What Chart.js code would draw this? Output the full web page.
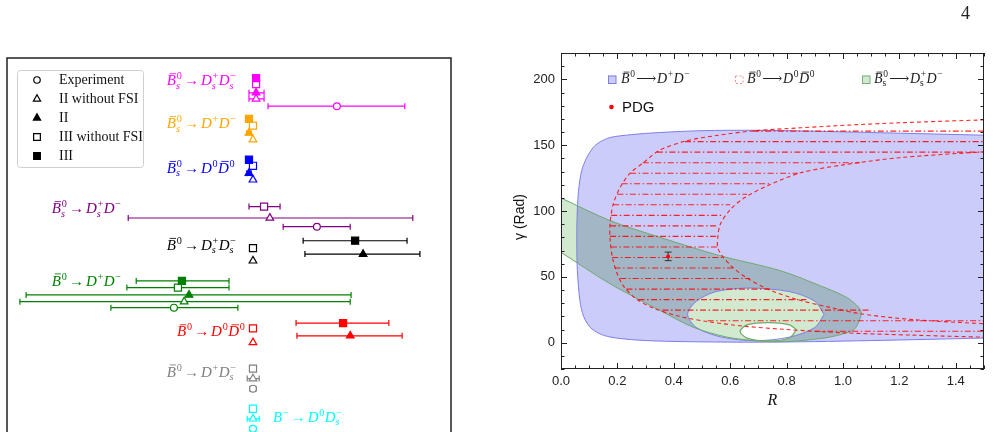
<!DOCTYPE html>
<html lang="en">
<head>
<meta charset="UTF-8" />
<title>Branching ratios and R-gamma regions</title>
<script src="https://cdn.jsdelivr.net/npm/chart.js"></script>
<style>
  html, body { margin: 0; padding: 0; background: #fff; width: 999px; height: 432px; overflow: hidden; }
  #left { position: absolute; left: 0; top: 0; }
  #right { position: absolute; left: 480px; top: 0; }
  #pageNo { position: absolute; left: 961px; top: 3px; font: 18px 'Liberation Serif', serif; color: #222; }
</style>
</head>
<body>
<canvas id="left" width="470" height="480"></canvas>
<canvas id="right" width="519" height="432"></canvas>
<div id="pageNo">4</div>

<script>
// ---------- left panel: processes ----------
const procLabels = ['~B^0_s→D^+_sD^−_s', '~B^0_s→D^+D^−', '~B^0_s→D^0~D^0', '~B^0_s→D^+_sD^−',
  '~B^0→D^+_sD^−_s', '~B^0→D^+D^−', '~B^0→D^0~D^0', '~B^0→D^+D^−_s', 'B^−→D^0D^−_s'];
const procColors = ['#ff00ff', '#ffa500', '#0000ff', '#800080', '#000000', '#008000', '#ff0000', '#808080', '#00ffff'];
const labelX = [36.0, 36.0, 36.0, 10.1, 36.0, 10.1, 38.3, 36.0, 59.9];
const labelRow = [4.1, 10.5, 17.2, 23.2, 28.7, 34.0, 41.6, 47.6, 54.4];

// model III (filled square)
const rowIII = [3.0, 9.1, 15.2, null, 27.3, 33.3, 39.6, null, null];
const valIII = [56.1, 54.5, 54.5, null, 78.4, 39.4, 75.7, null, null];
const loIII = [null, null, null, null, 66.7, 29.1, 65.1, null, null];
const hiIII = [null, null, null, null, 90.1, 50.0, 86.0, null, null];
// model III without FSI (open square)
const rowIIIwo = [3.9, 10.1, 16.1, 22.2, 28.4, 34.3, 40.4, 46.4, 52.4];
const valIIIwo = [56.1, 55.4, 55.4, 57.9, 55.4, 38.5, 55.4, 55.4, 55.4];
const loIIIwo = [null, null, null, 54.5, null, 27.0, null, null, null];
const hiIIIwo = [null, null, null, 61.5, null, 50.0, null, null, null];
// model II (filled triangle)
const rowII = [5.2, 11.2, 17.2, null, 29.3, 35.4, 41.5, null, null];
const valII = [56.1, 54.5, 54.5, null, 80.2, 41.0, 77.3, null, null];
const loII = [54.5, 54.0, 54.0, null, 67.1, 4.3, 65.3, null, null];
const hiII = [57.9, 55.0, 55.0, null, 93.0, 77.5, 89.0, null, null];
// model II without FSI (open triangle)
const rowIIwo = [6.1, 12.2, 18.2, 23.9, 30.3, 36.4, 42.5, 47.9, 53.9];
const valIIwo = [56.1, 55.4, 55.4, 59.2, 55.4, 39.9, 55.4, 55.4, 55.4];
const loIIwo = [54.5, null, null, 27.3, null, 2.9, null, 54.1, 54.1];
const hiIIwo = [57.9, null, null, 91.4, null, 77.3, null, 56.8, 56.8];
// experiment (open circle)
const rowExp = [7.2, null, null, 25.2, null, 37.3, null, 49.4, 55.4];
const valExp = [74.3, null, null, 69.8, null, 37.6, null, 55.4, 55.4];
const loExp = [58.8, null, null, 62.2, null, 23.4, null, 54.7, 54.7];
const hiExp = [89.6, null, null, 77.3, null, 52.0, null, 56.1, 56.1];

// ---------- right panel: R - gamma regions ----------
const blueR = [1.6, 1.5, 1.3, 1.1, 0.9, 0.7, 0.5, 0.35, 0.25, 0.174, 0.135, 0.114, 0.09, 0.073, 0.062, 0.057, 0.056, 0.058, 0.067, 0.08, 0.103, 0.135, 0.174, 0.25, 0.351, 0.5, 0.7, 0.9, 1.1, 1.3, 1.5, 1.6];
const blueG = [157.3, 157.6, 158.6, 159.6, 160.6, 161.3, 161.0, 159.6, 158.0, 155.8, 152.0, 148.2, 140.0, 130.5, 115.0, 95.0, 75.0, 55.0, 32.0, 20.0, 11.8, 7.0, 4.3, 2.3, 1.2, 0.6, 0.4, 0.8, 1.6, 2.5, 3.5, 3.8];
const holeR = [0.933, 0.90, 0.81, 0.665, 0.55, 0.48, 0.449, 0.48, 0.57, 0.69, 0.81, 0.90, 0.933];
const holeG = [21.5, 31.5, 38.8, 41.5, 38.8, 31.5, 21.5, 11.5, 4.2, 1.5, 4.2, 11.5, 21.5];
const innerHoleR = [0.835, 0.81, 0.735, 0.66, 0.635, 0.66, 0.735, 0.81, 0.835];
const innerHoleG = [9.8, 13.5, 15.2, 13.5, 8.5, 3.5, 1.3, 3.5, 9.8];
const bandR = [-0.05, 0, 0.174, 0.351, 0.563, 0.776, 0.917, 1.012, 1.055, 1.065, 1.05, 1.035, 0.98, 0.917, 0.8, 0.705, 0.587, 0.468, 0.351, 0.174, 0, -0.05];
const bandG = [114.0, 109.8, 92.7, 80.0, 66.1, 54.8, 43.4, 34.5, 27.0, 22.0, 13.0, 9.3, 5.5, 3.0, 0.8, 1.2, 4.3, 11.8, 24.5, 44.7, 68.6, 75.5];
const bandEdgeR = [-0.05, 0, 0.057, 0.057, 0, -0.05];
const bandEdgeG = [114.0, 109.8, 104.2, 60.8, 68.6, 75.5];
const outerR = [1.6, 1.5, 1.2, 1.035, 0.85, 0.68, 0.55, 0.445, 0.35, 0.29, 0.244, 0.21, 0.185, 0.174, 0.174, 0.183, 0.2, 0.225, 0.268, 0.33, 0.42, 0.52, 0.65, 0.8, 1.0, 1.25, 1.5, 1.6];
const outerG = [169.7, 169.2, 167.0, 165.4, 163.2, 160.8, 157.3, 153.3, 146.2, 136.3, 128.5, 118.0, 105.0, 90.0, 78.0, 64.0, 52.0, 42.0, 33.0, 26.0, 20.0, 16.0, 12.5, 10.0, 7.5, 5.7, 4.2, 3.9];
const innerR = [1.6, 1.5, 1.2, 1.0, 0.85, 0.74, 0.65, 0.6, 0.565, 0.556, 0.556, 0.575, 0.61, 0.66, 0.74, 0.85, 0.95, 1.06, 1.25, 1.5, 1.6];
const innerG = [146.5, 145.0, 140.5, 135.0, 129.0, 120.0, 110.0, 101.0, 90.0, 80.0, 72.0, 65.0, 57.0, 49.0, 40.0, 32.0, 27.0, 22.0, 17.5, 14.4, 13.5];
const hatchGamma = [160.7, 152.7, 144.7, 136.7, 128.7, 120.7, 112.7, 104.7, 96.7, 88.7, 80.7, 72.7, 64.7, 56.7, 48.7, 40.7, 32.7, 24.7, 16.7, 8.7];
const hatchFrom = [0.68, 0.44, 0.34, 0.29, 0.245, 0.215, 0.2, 0.185, 0.178, 0.174, 0.174, 0.177, 0.182, 0.19, 0.21, 0.232, 0.275, 0.36, 0.52, 0.9];
const hatchTo = [1.5, 1.5, 1.5, 1.06, 0.84, 0.74, 0.66, 0.6, 0.57, 0.558, 0.556, 0.556, 0.575, 0.61, 0.67, 0.74, 0.87, 1.1, 1.5, 1.5];
const pdgR = [0.38];
const pdgG = [65.5];
const pdgLo = [62.3];
const pdgHi = [68.8];
const xTickVals = [0, 0.2, 0.4, 0.6, 0.8, 1.0, 1.2, 1.4];
const yTickVals = [0, 50, 100, 150, 200];

const serif = "'Liberation Serif', 'DejaVu Serif', serif";
const sans = "'Liberation Sans', Arial, sans-serif";
const GAP = { x: null, y: null };

// small math-like text: ~ puts a bar over the next letter, ^ and _ make scripts
function drawMath(ctx, str, x, y, size, color, subUpright, arrowGap) {
  let cx = x, scriptX = x, scriptEnd = x, barNext = false, prevItalic = false;
  ctx.save();
  ctx.fillStyle = color; ctx.strokeStyle = color;
  ctx.textBaseline = 'alphabetic'; ctx.textAlign = 'left';
  const isLetter = c => /[A-Za-z]/.test(c);
  const font = (c, sz, up) => (isLetter(c) && !up ? 'italic ' : '') + sz + 'px ' + serif;
  for (let i = 0; i < str.length; i++) {
    const ch = str[i];
    if (ch === '~') { barNext = true; continue; }
    if (ch === '^' || ch === '_') {
      const s = str[++i];
      const sz = size * 0.68;
      ctx.font = font(s, sz, ch === '_' && subUpright);
      const dy = ch === '^' ? -size * 0.4 : size * 0.22;
      const sx = scriptX + (ch === '^' && prevItalic ? size * 0.05 : 0);
      ctx.fillText(s, sx, y + dy);
      scriptEnd = Math.max(scriptEnd, sx + ctx.measureText(s).width);
      cx = Math.max(cx, scriptEnd + size * 0.03);
      continue;
    }
    ctx.font = font(ch, size);
    const w = ctx.measureText(ch).width;
    const gap = (ch === '→' || ch === '⟶') ? size * arrowGap : 0;
    ctx.fillText(ch, cx + gap, y);
    if (barNext) {
      ctx.lineWidth = Math.max(0.8, size * 0.055);
      const by = y - size * 0.78;
      ctx.beginPath(); ctx.moveTo(cx + w * 0.3, by); ctx.lineTo(cx + w * 1.0, by); ctx.stroke();
      barNext = false;
    }
    prevItalic = isLetter(ch);
    cx += w + gap * 2;
    scriptX = cx; scriptEnd = cx;
  }
  ctx.restore();
}

function drawMarker(ctx, style, filled, x, y, r, color) {
  ctx.save();
  ctx.beginPath();
  if (style === 'circle') ctx.arc(x, y, r, 0, Math.PI * 2);
  else if (style === 'rect') { const s = r * Math.SQRT1_2; ctx.rect(x - s, y - s, 2 * s, 2 * s); }
  else { ctx.moveTo(x, y - r); ctx.lineTo(x + r * 0.866, y + r / 2); ctx.lineTo(x - r * 0.866, y + r / 2); ctx.closePath(); }
  ctx.fillStyle = filled ? color : '#fff'; ctx.fill();
  ctx.strokeStyle = color; ctx.lineWidth = 1.2; ctx.stroke();
  ctx.restore();
}

const leftSeries = [
  { name: 'III', style: 'rect', filled: true, r: 5, rows: rowIII, vals: valIII, lo: loIII, hi: hiIII },
  { name: 'III without FSI', style: 'rect', filled: false, r: 5, rows: rowIIIwo, vals: valIIIwo, lo: loIIIwo, hi: hiIIIwo },
  { name: 'II', style: 'triangle', filled: true, r: 4.4, rows: rowII, vals: valII, lo: loII, hi: hiII },
  { name: 'II without FSI', style: 'triangle', filled: false, r: 4.4, rows: rowIIwo, vals: valIIwo, lo: loIIwo, hi: hiIIwo },
  { name: 'Experiment', style: 'circle', filled: false, r: 3.4, rows: rowExp, vals: valExp, lo: loExp, hi: hiExp }
];

const leftDecor = {
  id: 'leftDecor',
  beforeDatasetsDraw(chart) {
    const { ctx, scales: { x, y } } = chart;
    ctx.save();
    ctx.lineWidth = 1.2;
    leftSeries.forEach(s => {
      s.vals.forEach((v, i) => {
        if (v == null || s.lo[i] == null) return;
        const py = y.getPixelForValue(s.rows[i]);
        const x0 = x.getPixelForValue(s.lo[i]), x1 = x.getPixelForValue(s.hi[i]);
        ctx.strokeStyle = procColors[i];
        ctx.beginPath();
        ctx.moveTo(x0, py); ctx.lineTo(x1, py);
        ctx.moveTo(x0, py - 3); ctx.lineTo(x0, py + 3);
        ctx.moveTo(x1, py - 3); ctx.lineTo(x1, py + 3);
        ctx.stroke();
      });
    });
    ctx.restore();
  },
  afterDraw(chart) {
    const { ctx, chartArea: a, scales: { x, y } } = chart;
    ctx.save();
    ctx.strokeStyle = '#222'; ctx.lineWidth = 1.5;
    ctx.strokeRect(a.left, a.top, a.right - a.left, a.bottom - a.top);
    ctx.restore();
    procLabels.forEach((t, i) => {
      drawMath(ctx, t, x.getPixelForValue(labelX[i]), y.getPixelForValue(labelRow[i]), 15, procColors[i], false, 0.12);
    });
    // legend box
    ctx.save();
    ctx.strokeStyle = '#cfcfcf'; ctx.fillStyle = '#fff'; ctx.lineWidth = 1;
    ctx.beginPath(); ctx.roundRect(17.5, 70.5, 126, 97, 3); ctx.fill(); ctx.stroke();
    [4, 3, 2, 1, 0].forEach((si, k) => {
      const s = leftSeries[si];
      const ly = 80 + k * 19;
      drawMarker(ctx, s.style, s.filled, 37, ly, s.r * 0.95, '#000');
      ctx.fillStyle = '#111'; ctx.font = '14px ' + serif; ctx.textBaseline = 'middle';
      ctx.fillText(s.name, 59, ly + 0.5);
    });
    ctx.restore();
  }
};

new Chart(document.getElementById('left'), {
  type: 'scatter',
  data: {
    datasets: leftSeries.map(s => ({
      label: s.name,
      data: s.vals.map((v, i) => v == null ? GAP : { x: v, y: s.rows[i] }),
      pointStyle: s.style,
      pointRadius: s.r,
      pointBorderWidth: 1.2,
      pointBorderColor: procColors,
      pointBackgroundColor: s.filled ? procColors : '#ffffff'
    }))
  },
  options: {
    responsive: false,
    animation: false,
    layout: { padding: { left: 7, right: 19, top: 58, bottom: 7 } },
    plugins: { legend: { display: false }, tooltip: { enabled: false } },
    scales: {
      x: { type: 'linear', min: 0, max: 100, display: false },
      y: { type: 'linear', min: 0, max: 62, reverse: true, display: false }
    }
  },
  plugins: [leftDecor]
});

// ---------- right panel ----------
const xy = (rs, gs) => rs.map((r, i) => ({ x: r, y: gs[i] }));
const hatchData = [];
hatchGamma.forEach((g, i) => {
  hatchData.push({ x: hatchFrom[i], y: g }, { x: hatchTo[i], y: g }, GAP);
});

const blueFill = 'rgb(204,204,251)';
const blueLine = 'rgb(125,125,232)';
const greenFill = 'rgb(209,233,206)';
const overlapFill = 'rgb(163,182,197)';
const greenLine = 'rgb(110,170,110)';
const redLine = 'rgba(255,0,0,0.85)';

const layers = [
  { data: xy(blueR, blueG), fill: 'shape', backgroundColor: blueFill, borderWidth: 0 },
  { data: xy(bandR, bandG), fill: 'shape', backgroundColor: overlapFill, borderWidth: 0 },
  { data: xy(bandEdgeR, bandEdgeG), fill: 'shape', backgroundColor: greenFill, borderWidth: 0, tension: 0 },
  { data: xy(holeR, holeG), fill: 'shape', backgroundColor: greenFill, borderWidth: 0 },
  { data: xy(innerHoleR, innerHoleG), fill: 'shape', backgroundColor: '#ffffff', borderWidth: 0 },
  { data: xy(blueR, blueG), fill: false, borderColor: blueLine, borderWidth: 1 },
  { data: xy(holeR, holeG), fill: false, borderColor: blueLine, borderWidth: 1 },
  { data: xy(bandR, bandG), fill: false, borderColor: greenLine, borderWidth: 1 },
  { data: xy(innerHoleR, innerHoleG), fill: false, borderColor: greenLine, borderWidth: 1.2 },
  { data: xy(outerR, outerG), fill: false, borderColor: redLine, borderWidth: 1.1, borderDash: [4, 3] },
  { data: xy(innerR, innerG), fill: false, borderColor: redLine, borderWidth: 1.1, borderDash: [4, 3] },
  { data: hatchData, fill: false, borderColor: redLine, borderWidth: 1.1, borderDash: [6, 2.5, 1.5, 2.5], tension: 0, spanGaps: false },
  { data: xy(pdgR, pdgG), showLine: false, pointRadius: 2, pointBackgroundColor: '#ff0000', pointBorderWidth: 0 }
];
const HATCH = 11;

const rightDecor = {
  id: 'rightDecor',
  afterDatasetDraw(chart, args) {
    if (args.index !== HATCH) return;
    const { ctx, scales: { x, y } } = chart;
    const px = x.getPixelForValue(pdgR[0]);
    const y0 = y.getPixelForValue(pdgLo[0]), y1 = y.getPixelForValue(pdgHi[0]);
    ctx.save();
    ctx.strokeStyle = '#333'; ctx.lineWidth = 1;
    ctx.beginPath();
    ctx.moveTo(px, y0); ctx.lineTo(px, y1);
    ctx.moveTo(px - 3.5, y0); ctx.lineTo(px + 3.5, y0);
    ctx.moveTo(px - 3.5, y1); ctx.lineTo(px + 3.5, y1);
    ctx.stroke();
    ctx.restore();
  },
  afterDraw(chart) {
    const { ctx, chartArea: a, scales: { x, y } } = chart;
    ctx.save();
    ctx.strokeStyle = '#222'; ctx.lineWidth = 1;
    ctx.strokeRect(a.left + 0.5, a.top + 0.5, a.right - a.left - 1, a.bottom - a.top - 1);
    ctx.beginPath();
    for (let k = 0; k <= 30; k++) {
      const px = Math.round(x.getPixelForValue(k * 0.05)) + 0.5;
      const len = k % 4 === 0 ? 6 : 3.5;
      ctx.moveTo(px, a.bottom); ctx.lineTo(px, a.bottom - len);
      ctx.moveTo(px, a.top); ctx.lineTo(px, a.top + len);
    }
    for (let v = -20; v <= 220; v += 10) {
      const py = Math.round(y.getPixelForValue(v)) + 0.5;
      const len = v % 50 === 0 ? 6 : 3.5;
      ctx.moveTo(a.left, py); ctx.lineTo(a.left + len, py);
      ctx.moveTo(a.right, py); ctx.lineTo(a.right - len, py);
    }
    ctx.stroke();

    ctx.fillStyle = '#111';
    ctx.font = 'italic 16px ' + serif; ctx.textAlign = 'center'; ctx.textBaseline = 'middle';
    ctx.fillText('R', (a.left + a.right) / 2, 401);
    ctx.save();
    ctx.translate(40, 217); ctx.rotate(-Math.PI / 2);
    ctx.font = '14px ' + sans;
    ctx.fillText('γ (Rad)', 0, 0);
    ctx.restore();

    ctx.lineWidth = 1;
    ctx.fillStyle = blueFill; ctx.strokeStyle = blueLine;
    ctx.fillRect(128, 75.5, 8, 8); ctx.strokeRect(128.5, 76, 7.5, 7.5);
    drawMath(ctx, '~B^0⟶D^+D^−', 141, 83, 14, '#222', true, 0.05);
    ctx.save();
    ctx.setLineDash([2, 2]); ctx.strokeStyle = 'rgba(255,110,110,0.8)';
    ctx.strokeRect(255.5, 76, 7.5, 7.5);
    ctx.restore();
    drawMath(ctx, '~B^0⟶D^0~D^0', 267, 83, 14, '#222', true, 0.05);
    ctx.fillStyle = greenFill; ctx.strokeStyle = 'rgb(120,180,120)';
    ctx.fillRect(382, 75.5, 8, 8); ctx.strokeRect(382.5, 76, 7.5, 7.5);
    drawMath(ctx, '~B^0_s⟶D^+_sD^−', 394, 83, 14, '#222', true, 0.05);
    ctx.fillStyle = '#ff0000';
    ctx.beginPath(); ctx.arc(131.5, 107, 2.3, 0, Math.PI * 2); ctx.fill();
    ctx.fillStyle = '#111'; ctx.font = '15px ' + sans; ctx.textAlign = 'left'; ctx.textBaseline = 'alphabetic';
    ctx.fillText('PDG', 142, 112);
    ctx.restore();
  }
};

new Chart(document.getElementById('right'), {
  type: 'line',
  data: {
    datasets: layers.map((d, i) => Object.assign({
      pointRadius: 0,
      tension: 0.3,
      clip: 0,
      order: layers.length - i
    }, d))
  },
  options: {
    responsive: false,
    animation: false,
    layout: { padding: { left: 0, right: 15, top: 53, bottom: 0 } },
    plugins: { legend: { display: false }, tooltip: { enabled: false } },
    scales: {
      x: {
        type: 'linear', min: 0, max: 1.5,
        afterFit: s => { s.height = 63; },
        afterBuildTicks: s => { s.ticks = xTickVals.map(v => ({ value: v })); },
        grid: { display: false, drawTicks: false },
        border: { display: false },
        ticks: { color: '#222', font: { family: sans, size: 13 }, padding: 5, callback: v => v.toFixed(1) }
      },
      y: {
        type: 'linear', min: -20, max: 220,
        afterFit: s => { s.width = 81; },
        afterBuildTicks: s => { s.ticks = yTickVals.map(v => ({ value: v })); },
        grid: { display: false, drawTicks: false },
        border: { display: false },
        ticks: { color: '#222', font: { family: sans, size: 13 }, padding: 6 }
      }
    }
  },
  plugins: [rightDecor]
});
</script>
</body>
</html>
